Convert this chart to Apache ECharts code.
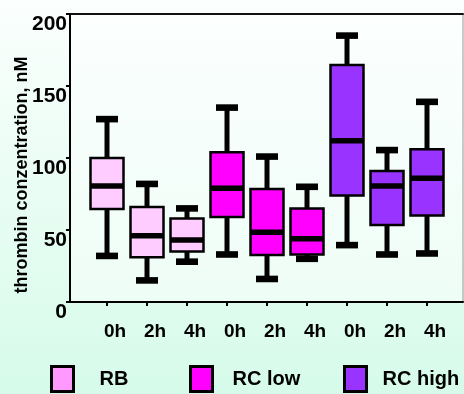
<!DOCTYPE html>
<html>
<head>
<meta charset="utf-8">
<script src="https://cdn.jsdelivr.net/npm/echarts@6/dist/echarts.min.js"></script>
<style>html,body{margin:0;padding:0;}#c{width:464px;height:394px;}</style>
</head>
<body>
<div id="c"></div>
<script>
const categories = ['0h','2h','4h','0h','2h','4h','0h','2h','4h'];
const groups = ['RB','RC low','RC high'];
const lowWhisker  = [32, 15, 28, 33, 16, 30, 39.5, 33, 33.7];
const q1          = [64.6, 31, 35, 59, 32.6, 33, 74, 53.5, 60];
const median      = [80.5, 46, 43, 79, 48.5, 44, 112, 80.5, 86];
const q3          = [100, 66, 58, 104, 78.5, 65, 164.5, 91, 106];
const highWhisker = [127, 82, 65, 135, 101, 80, 185, 105.5, 139];
const yTickLabels = [0, 50, 100, 150, 200];

const boxColors = ['#FFCCFF', '#FF00FF', '#9933FF'];
const legendColors = ['#FF99FF', '#FF00FF', '#9933FF'];
const FONT = 'Liberation Sans, Arial, sans-serif';

const chart = echarts.init(document.getElementById('c'), null, {renderer: 'canvas'});

function renderBox(params, api) {
  const idx = api.value(0);
  const cx = api.coord([idx, 0])[0];
  const yLo = api.coord([idx, api.value(1)])[1];
  const yQ1 = api.coord([idx, api.value(2)])[1];
  const yMed = api.coord([idx, api.value(3)])[1];
  const yQ3 = api.coord([idx, api.value(4)])[1];
  const yHi = api.coord([idx, api.value(5)])[1];
  const bw = 33, cw = 22;
  const fill = api.visual('color');
  return {
    type: 'group',
    children: [
      {type: 'line', shape: {x1: cx, y1: yHi, x2: cx, y2: yQ3}, style: {stroke: '#000', lineWidth: 5}},
      {type: 'line', shape: {x1: cx, y1: yQ1, x2: cx, y2: yLo}, style: {stroke: '#000', lineWidth: 5}},
      {type: 'rect', shape: {x: cx - cw / 2, y: yHi - 3.3, width: cw, height: 6.6}, style: {fill: '#000'}},
      {type: 'rect', shape: {x: cx - cw / 2, y: yLo - 3.3, width: cw, height: 6.6}, style: {fill: '#000'}},
      {type: 'rect', shape: {x: cx - bw / 2, y: yQ3, width: bw, height: yQ1 - yQ3}, style: {fill: fill, stroke: '#000', lineWidth: 2.5}},
      {type: 'line', shape: {x1: cx - bw / 2, y1: yMed, x2: cx + bw / 2, y2: yMed}, style: {stroke: '#000', lineWidth: 5.5}}
    ]
  };
}

const series = groups.map((g, gi) => ({
  name: g,
  type: 'custom',
  xAxisIndex: 1,
  yAxisIndex: 1,
  itemStyle: {color: boxColors[gi]},
  renderItem: renderBox,
  encode: {x: 0, y: [1, 2, 3, 4, 5]},
  data: [0, 1, 2].map(k => {
    const i = gi * 3 + k;
    return [i, lowWhisker[i], q1[i], median[i], q3[i], highWhisker[i]];
  })
}));

const legendLeft = [50, 189, 343];
const legendPad = [21, 15, 11];

chart.setOption({
  backgroundColor: new echarts.graphic.LinearGradient(0, 0, 0, 1, [
    {offset: 0, color: '#fbfffd'},
    {offset: 1, color: '#d6fbea'}
  ]),
  animation: false,
  grid: [
    {left: 70, top: 14, right: 1, bottom: 92, show: true, borderColor: '#999', borderWidth: 1,
     backgroundColor: new echarts.graphic.LinearGradient(0, 0, 0, 1, [
       {offset: 0, color: '#fcfffe'},
       {offset: 1, color: '#eefdf6'}
     ])},
    {left: 87, top: 14, right: 17, bottom: 92}
  ],
  xAxis: [
    {gridIndex: 0, type: 'value', min: 0, max: 1, position: 'bottom',
     axisLine: {show: true, lineStyle: {color: '#000', width: 2}},
     axisTick: {show: false}, axisLabel: {show: false}, splitLine: {show: false}},
    {gridIndex: 1, type: 'category', data: categories, boundaryGap: true,
     axisLine: {show: false},
     axisTick: {show: true, alignWithLabel: true, length: 4, inside: false, lineStyle: {color: '#000', width: 2}},
     axisLabel: {color: '#000', fontFamily: FONT, fontWeight: 'bold', fontSize: 19, margin: 20, padding: [0, 0, 0, 16]},
     splitLine: {show: false}},
    {gridIndex: 0, type: 'value', min: 0, max: 1, position: 'top',
     axisLine: {show: true, lineStyle: {color: '#111', width: 2}},
     axisTick: {show: false}, axisLabel: {show: false}, splitLine: {show: false}}
  ],
  yAxis: [
    {gridIndex: 0, type: 'value', min: 0, max: 200, interval: 50,
     axisLine: {show: true, lineStyle: {color: '#000', width: 2}},
     axisTick: {show: true, length: 4, lineStyle: {color: '#000', width: 2}},
     axisLabel: {color: '#000', fontFamily: FONT, fontWeight: 'bold', fontSize: 21, margin: 3, verticalAlign: 'top',
       formatter: v => yTickLabels.indexOf(v) >= 0 ? String(v) : ''},
     splitLine: {show: false}},
    {gridIndex: 1, type: 'value', min: 0, max: 200, show: false}
  ],
  legend: groups.map((g, gi) => ({
    left: legendLeft[gi], top: 365, padding: 0,
    itemWidth: 22, itemHeight: 25,
    selectedMode: false,
    textStyle: {color: '#000', fontFamily: FONT, fontWeight: 'bold', fontSize: 20, padding: [0, 0, 0, legendPad[gi]]},
    data: [{name: g, icon: 'rect', itemStyle: {color: legendColors[gi], borderColor: '#000', borderWidth: 3}}]
  })),
  graphic: [
    {type: 'text', x: 22, y: 175, rotation: Math.PI / 2,
     style: {text: 'thrombin conzentration, nM', fill: '#000', font: 'bold 18px ' + FONT, align: 'center', verticalAlign: 'middle'}}
  ],
  series: series
});
</script>
</body>
</html>
